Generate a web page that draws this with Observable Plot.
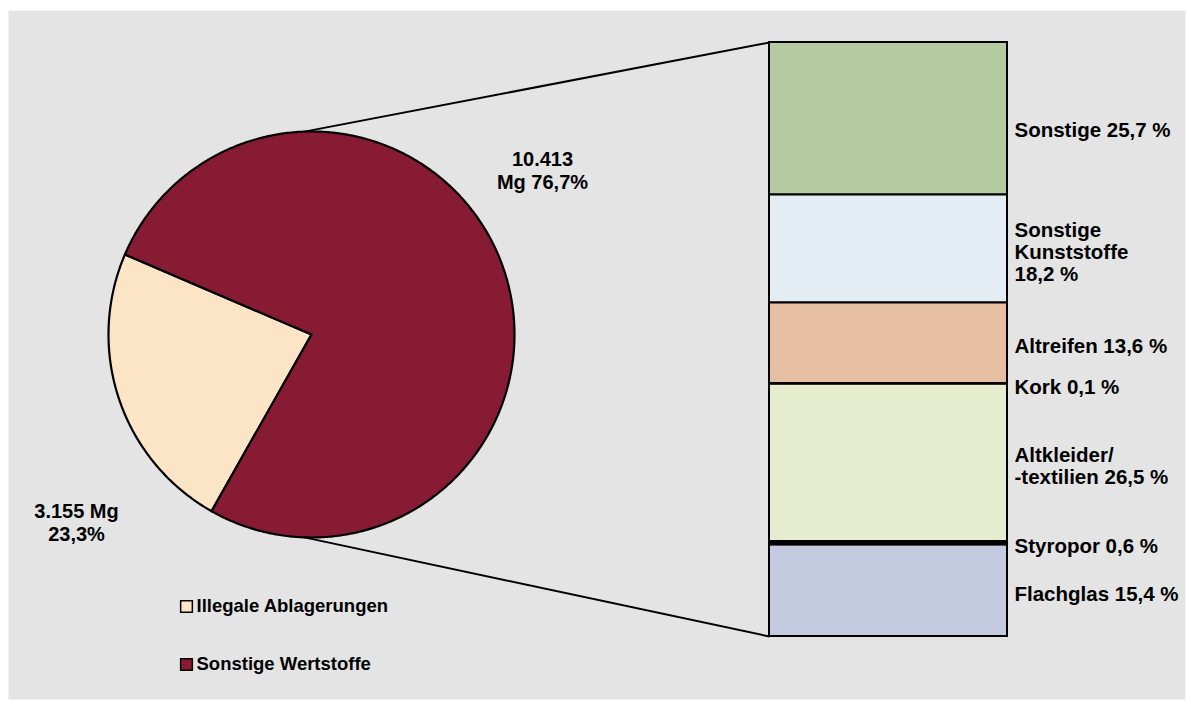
<!DOCTYPE html>
<html>
<head>
<meta charset="utf-8">
<script src="https://cdn.jsdelivr.net/npm/d3@7"></script>
<script src="https://cdn.jsdelivr.net/npm/@observablehq/plot@0.6"></script>
<style>
  html, body { margin: 0; padding: 0; background: white; }
  #chart { position: relative; width: 1191px; height: 706px; }
  #chart svg { position: absolute; left: 0; top: 0; }
</style>
</head>
<body>
<div id="chart"></div>
<script>
// ---- data ----
const pieCategories = ["Illegale Ablagerungen", "Sonstige Wertstoffe"];
const pieValues = [3155, 10413];           // Mg
const pieValueLabels = ["3.155 Mg\n23,3%", "10.413\nMg 76,7%"];
const pieColors = ["#fce4c6", "#861b33"];

const barCategories = ["Sonstige", "Sonstige Kunststoffe", "Altreifen", "Kork", "Altkleider/-textilien", "Styropor", "Flachglas"];
const barValues = [25.7, 18.2, 13.6, 0.1, 26.5, 0.6, 15.4]; // %
const barLabels = ["Sonstige 25,7 %", "Sonstige\nKunststoffe\n18,2 %", "Altreifen 13,6 %", "Kork 0,1 %", "Altkleider/\n-textilien 26,5 %", "Styropor 0,6 %", "Flachglas 15,4 %"];
const barColors = ["#b4cba2", "#e4ecf4", "#e6bfa2", "#000000", "#e4edcd", "#000000", "#c4cadf"];

// ---- layout ----
const W = 1191, H = 706;
const cx = 311, cy = 334, r = 203;
const barLeft = 769, barRight = 1007, barTop = 42, barBottom = 636;
const font = "'Liberation Sans', Arial, Helvetica, sans-serif";
const rad = Math.PI / 180;

// pie slices as polygons
const start = 209.5 * rad;
const arcs = d3.pie().sort(null).startAngle(start).endAngle(start + 2 * Math.PI)(pieValues);
const piePts = [];
arcs.forEach((a, i) => {
  const name = pieCategories[i];
  piePts.push({x: cx, y: cy, name});
  const n = Math.max(2, Math.ceil((a.endAngle - a.startAngle) / (0.5 * rad)));
  for (let j = 0; j <= n; j++) {
    const t = a.startAngle + (a.endAngle - a.startAngle) * j / n;
    piePts.push({x: cx + r * Math.sin(t), y: cy - r * Math.cos(t), name});
  }
  piePts.push({x: cx, y: cy, name});
});

const connectors = [
  {x1: cx + r * Math.sin(-2 * rad), y1: cy - r * Math.cos(-2 * rad), x2: barLeft, y2: barTop},
  {x1: cx + r * Math.sin(182 * rad), y1: cy - r * Math.cos(182 * rad), x2: barLeft, y2: barBottom}
];

const pieLabelPos = [{x: 76, y: 522}, {x: 542, y: 170}];
const pieLabelData = pieValueLabels.map((t, i) => ({text: t, ...pieLabelPos[i]}));

const legendPos = [{x: 186, y: 606}, {x: 186, y: 664}];
const legendData = pieCategories.map((name, i) => ({name, ...legendPos[i]}));

const plot1 = Plot.plot({
  width: W, height: H, margin: 0,
  x: {domain: [0, W], range: [0, W], axis: null},
  y: {domain: [0, H], range: [0, H], axis: null},
  color: {domain: pieCategories, range: pieColors},
  style: {background: "white", fontFamily: font},
  marks: [
    Plot.frame({fill: "#e4e4e4", stroke: null, insetLeft: 8, insetTop: 10, insetRight: 6, insetBottom: 7}),
    Plot.link(connectors, {x1: "x1", y1: "y1", x2: "x2", y2: "y2", stroke: "black", strokeWidth: 2}),
    Plot.line(piePts, {x: "x", y: "y", z: "name", fill: "name", stroke: "black", strokeWidth: 2.2, strokeLinejoin: "round"}),
    Plot.text(pieLabelData, {x: "x", y: "y", text: "text", fontSize: 20, fontWeight: "bold", lineHeight: 1.15, fill: "black", textAnchor: "middle"}),
    Plot.dot(legendData, {x: "x", y: "y", symbol: "square", r: 6.6, fill: "name", stroke: "black", strokeWidth: 1.5}),
    Plot.text(legendData, {x: "x", y: "y", text: "name", dx: 10, textAnchor: "start", fontSize: 18.5, fontWeight: "bold", fill: "black"})
  ]
});

const barData = barCategories.map((name, i) => ({name, value: barValues[i], label: barLabels[i]}));
const labelOpts = {textAnchor: "start", lineHeight: 1.08, fontSize: 20.5, fontWeight: "bold", fill: "black", dx: 7};

const plot2 = Plot.plot({
  width: W, height: H,
  marginTop: barTop, marginBottom: H - barBottom, marginLeft: barLeft, marginRight: W - barRight,
  x: {domain: [0, 1], axis: null},
  y: {domain: [0, d3.sum(barValues)], reverse: true, axis: null},
  color: {domain: barCategories, range: barColors},
  style: {background: "transparent", fontFamily: font, overflow: "visible"},
  marks: [
    Plot.rectY(barData, Plot.stackY({y: "value", x1: () => 0, x2: () => 1, fill: "name", stroke: "black", strokeWidth: 2})),
    // first segment's label sits a little below its midpoint
    Plot.text(barData, Plot.stackY({y: "value", x: () => 1, text: (d, i) => i === 0 ? d.label : null, dy: 11, ...labelOpts})),
    Plot.text(barData, Plot.stackY({y: "value", x: () => 1, text: (d, i) => i === 0 ? null : d.label, dy: 3, ...labelOpts}))
  ]
});

const chart = document.getElementById("chart");
chart.appendChild(plot1);
chart.appendChild(plot2);
</script>
</body>
</html>
